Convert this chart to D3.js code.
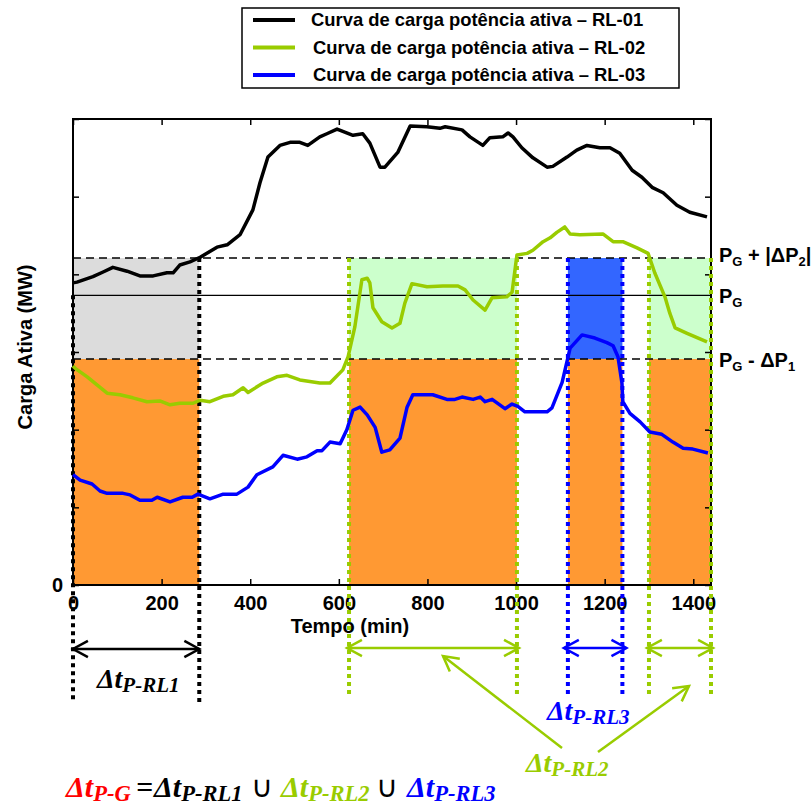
<!DOCTYPE html>
<html>
<head>
<meta charset="utf-8">
<script src="https://cdn.jsdelivr.net/npm/d3@7"></script>
<style>
body{margin:0;background:#fff;}
text{font-family:"Liberation Sans",Arial,sans-serif;}
.dt{font-family:"Liberation Serif","Times New Roman",serif;font-weight:bold;font-style:italic;}
</style>
</head>
<body>
<svg id="chart" width="812" height="806"></svg>
<script>
// curvas de carga: [tempo (min), carga (escala do eixo, 0..6)]
var rl01=[[0,3.89],[9,3.90],[45,3.97],[68,4.03],[90,4.09],[122,4.04],[151,3.98],[181,3.98],[212,4.02],[226,4.02],[241,4.12],[264,4.16],[287,4.22],[325,4.35],[348,4.38],[377,4.51],[406,4.83],[422,5.18],[440,5.51],[467,5.66],[490,5.70],[512,5.70],[530,5.66],[557,5.77],[573,5.81],[596,5.87],[632,5.79],[654,5.81],[670,5.69],[693,5.38],[704,5.38],[733,5.57],[761,5.91],[799,5.90],[828,5.88],[840,5.90],[878,5.86],[896,5.77],[925,5.66],[941,5.76],[970,5.77],[982,5.82],[993,5.77],[1013,5.63],[1038,5.50],[1070,5.38],[1083,5.39],[1115,5.51],[1137,5.60],[1160,5.66],[1189,5.63],[1212,5.63],[1234,5.56],[1262,5.34],[1284,5.25],[1307,5.12],[1332,5.05],[1363,4.89],[1392,4.80],[1431,4.74]];
var rl02=[[0,2.82],[5,2.79],[32,2.68],[77,2.47],[106,2.45],[135,2.41],[167,2.36],[196,2.37],[219,2.32],[241,2.34],[271,2.34],[287,2.38],[309,2.36],[339,2.43],[361,2.45],[384,2.54],[395,2.48],[429,2.60],[460,2.68],[483,2.70],[512,2.64],[557,2.60],[580,2.60],[609,2.77],[621,2.94],[636,3.32],[652,3.93],[664,3.95],[670,3.89],[677,3.57],[697,3.39],[720,3.31],[738,3.37],[749,3.63],[765,3.88],[799,3.84],[835,3.85],[869,3.85],[885,3.80],[903,3.67],[930,3.54],[946,3.70],[979,3.71],[991,3.77],[1002,4.25],[1025,4.27],[1038,4.31],[1061,4.42],[1077,4.47],[1092,4.54],[1110,4.61],[1122,4.52],[1144,4.51],[1196,4.52],[1219,4.42],[1241,4.42],[1273,4.34],[1298,4.27],[1313,4.02],[1336,3.71],[1347,3.50],[1359,3.31],[1386,3.24],[1431,3.13]];
var rl03=[[0,1.42],[16,1.35],[43,1.30],[61,1.21],[77,1.18],[113,1.18],[129,1.16],[151,1.09],[178,1.09],[190,1.13],[219,1.07],[248,1.13],[269,1.13],[282,1.17],[309,1.11],[339,1.17],[370,1.17],[395,1.26],[415,1.42],[451,1.52],[474,1.67],[506,1.62],[528,1.65],[551,1.73],[562,1.73],[580,1.84],[603,1.82],[618,2.00],[632,2.25],[648,2.29],[664,2.19],[682,2.03],[697,1.71],[715,1.74],[738,1.89],[754,2.29],[767,2.45],[812,2.45],[844,2.39],[862,2.39],[878,2.42],[903,2.39],[919,2.42],[930,2.36],[946,2.39],[975,2.27],[991,2.33],[1004,2.30],[1020,2.23],[1070,2.23],[1081,2.28],[1104,2.61],[1122,3.05],[1149,3.22],[1178,3.18],[1205,3.12],[1219,3.08],[1230,2.94],[1239,2.60],[1241,2.36],[1257,2.21],[1280,2.10],[1302,1.97],[1329,1.94],[1354,1.84],[1377,1.76],[1399,1.75],[1433,1.70]];

var xTicks=[0,200,400,600,800,1000,1200,1400];
var yTicks=[0,1,2,3,4,5,6];

// niveis de referencia
var nivelSup=4.21;   // PG + |dP2|
var nivelPG=3.73;    // PG
var nivelInf=2.91;   // PG - dP1

// intervalos de cada RL (min)
var intervRL1=[[0,285]];
var intervRL2=[[623,1002],[1300,1440]];
var intervRL3=[[1117,1240]];

var legendas=["Curva de carga potência ativa – RL-01","Curva de carga potência ativa – RL-02","Curva de carga potência ativa – RL-03"];
var cores=["#000000","#99cc00","#0000ff"];

var svg=d3.select("#chart");
var x=d3.scaleLinear().domain([0,1440]).range([73,711]);
var y=d3.scaleLinear().domain([0,6]).range([585,119]);

var todos=intervRL1.concat(intervRL2,intervRL3);

//////// areas
function faixa(lista,y0,y1,cor){
	svg.append("g").selectAll("rect").data(lista).enter().append("rect")
		.attr("x",function(d){return x(d[0]);})
		.attr("width",function(d){return x(d[1])-x(d[0]);})
		.attr("y",y(y1))
		.attr("height",y(y0)-y(y1))
		.attr("fill",cor);
}
faixa(todos,0,nivelInf,"#ff9933");
faixa(intervRL1,nivelInf,nivelSup,"#dcdcdc");
faixa(intervRL2,nivelInf,nivelSup,"#ccffcc");
faixa(intervRL3,nivelInf,nivelSup,"#3366ff");

//////// linhas horizontais
svg.append("line").attr("x1",x(0)).attr("x2",x(1440)).attr("y1",y(nivelSup)).attr("y2",y(nivelSup))
	.attr("stroke","#000").attr("stroke-width",1.5).attr("stroke-dasharray","8,5");
svg.append("line").attr("x1",x(0)).attr("x2",x(1440)).attr("y1",y(nivelInf)).attr("y2",y(nivelInf))
	.attr("stroke","#000").attr("stroke-width",1.5).attr("stroke-dasharray","8,5");
svg.append("line").attr("x1",x(0)).attr("x2",x(1440)).attr("y1",y(nivelPG)).attr("y2",y(nivelPG))
	.attr("stroke","#000").attr("stroke-width",1.2);

//////// eixos
var fmtX=function(d){return d;};
svg.append("g").attr("transform","translate(0,585)")
	.call(d3.axisBottom(x).tickValues(xTicks).tickSize(-6).tickSizeOuter(0).tickPadding(11).tickFormat(fmtX));
svg.append("g").attr("transform","translate(0,119)")
	.call(d3.axisTop(x).tickValues(xTicks).tickSize(-6).tickSizeOuter(0).tickFormat(""));
svg.append("g").attr("transform","translate(73,0)")
	.call(d3.axisLeft(y).tickValues(yTicks).tickSize(-6).tickSizeOuter(0).tickPadding(10).tickFormat(function(d){return d===0?"0":"";}));
svg.append("g").attr("transform","translate(711,0)")
	.call(d3.axisRight(y).tickValues(yTicks).tickSize(-6).tickSizeOuter(0).tickFormat(""));
svg.selectAll(".domain").remove();
svg.selectAll(".tick line").attr("stroke","#000").attr("stroke-width",1.5);
svg.selectAll(".tick text").attr("font-size",20).attr("font-weight","bold").attr("fill","#000")
	.attr("font-family","Liberation Sans, Arial, sans-serif");
svg.append("rect").attr("x",73).attr("y",119).attr("width",711-73).attr("height",585-119)
	.attr("fill","none").attr("stroke","#000").attr("stroke-width",2);

svg.append("text").attr("x",350).attr("y",633).attr("text-anchor","middle")
	.attr("font-size",20).attr("font-weight","bold").text("Tempo (min)");
svg.append("text").attr("transform","translate(32,347) rotate(-90)").attr("text-anchor","middle")
	.attr("font-size",20).attr("font-weight","bold").text("Carga Ativa (MW)");

//////// verticais pontilhadas
function verticais(lista,cor,yIni,yFim,soFim){
	lista.forEach(function(iv){
		iv.forEach(function(t,k){
			var topo=(k===0&&soFim)?y(nivelPG):y(yIni);
			svg.append("line").attr("x1",x(t)).attr("x2",x(t)).attr("y1",topo).attr("y2",yFim)
				.attr("stroke",cor).attr("stroke-width",4).attr("stroke-dasharray","4,4");
		});
	});
}
verticais(intervRL1,"#000",nivelSup,703,true);
verticais(intervRL2,"#99cc00",nivelSup,695,false);
verticais(intervRL3,"#0000ff",nivelSup,695,false);

//////// curvas
var linha=d3.line().x(function(d){return x(d[0]);}).y(function(d){return y(d[1]);});
[rl01,rl02,rl03].forEach(function(s,i){
	svg.append("path").attr("d",linha(s)).attr("fill","none").attr("stroke",cores[i])
		.attr("stroke-width",3.5).attr("stroke-linejoin","round");
});

//////// setas
function ponta(x0,y0,x1,y1,cor){
	var a=Math.atan2(y1-y0,x1-x0),L=17,s=0.5;
	svg.append("path")
		.attr("d","M"+(x1-L*Math.cos(a-s))+","+(y1-L*Math.sin(a-s))+"L"+x1+","+y1+"L"+(x1-L*Math.cos(a+s))+","+(y1-L*Math.sin(a+s)))
		.attr("fill","none").attr("stroke",cor).attr("stroke-width",2.5);
}
function setaDupla(iv,cor,yy,ext){
	var a=x(iv[0])-ext,b=x(iv[1])+ext;
	svg.append("line").attr("x1",a).attr("x2",b).attr("y1",yy).attr("y2",yy).attr("stroke",cor).attr("stroke-width",2.5);
	ponta(b,yy,a,yy,cor);
	ponta(a,yy,b,yy,cor);
}
intervRL1.forEach(function(iv){setaDupla(iv,"#000",649,0);});
intervRL2.forEach(function(iv){setaDupla(iv,"#99cc00",648,2);});
intervRL3.forEach(function(iv){setaDupla(iv,"#0000ff",648,4);});

function setaSimples(x0,y0,x1,y1,cor){
	svg.append("line").attr("x1",x0).attr("y1",y0).attr("x2",x1).attr("y2",y1).attr("stroke",cor).attr("stroke-width",2.5);
	ponta(x0,y0,x1,y1,cor);
}
setaSimples(562,748,443,656,"#99cc00");
setaSimples(598,752,689,686,"#99cc00");

//////// rotulos delta t
function rotuloDt(xx,yy,sub,cor,tam){
	tam=tam||28;
	var t=svg.append("text").attr("class","dt").attr("x",xx).attr("y",yy).attr("fill",cor);
	t.append("tspan").attr("font-size",tam).text("Δt");
	t.append("tspan").attr("font-size",tam*0.75).attr("dy",4).text(sub);
}
rotuloDt(97,688,"P-RL1","#000");
rotuloDt(547,720,"P-RL3","#0000ff");
rotuloDt(526,772,"P-RL2","#99cc00");

// equacao
rotuloDt(66,797,"P-G","#ff0000",30);
svg.append("text").attr("class","dt").attr("x",136).attr("y",797).attr("font-size",30).text("=");
rotuloDt(154,797,"P-RL1","#000",30);
svg.append("text").attr("x",251).attr("y",797).attr("font-size",30).attr("font-family","DejaVu Sans").text("∪");
rotuloDt(281,797,"P-RL2","#99cc00",30);
svg.append("text").attr("x",376).attr("y",797).attr("font-size",30).attr("font-family","DejaVu Sans").text("∪");
rotuloDt(407,797,"P-RL3","#0000ff",30);

//////// rotulos dos niveis
function rotuloNivel(yy,partes){
	var t=svg.append("text").attr("x",719).attr("y",yy).attr("font-weight","bold").attr("fill","#000");
	partes.forEach(function(p){
		t.append("tspan").attr("font-size",p[1]?13:20).attr("dy",p[1]?4:(p[2]||0)).text(p[0]);
	});
}
rotuloNivel(262,[["P"],["G",1],[" + |ΔP",0,-4],["2",1],["|",0,-4]]);
rotuloNivel(303,[["P"],["G",1]]);
rotuloNivel(367,[["P"],["G",1],[" - ΔP",0,-4],["1",1]]);

//////// legenda
svg.append("rect").attr("x",242).attr("y",8).attr("width",437).attr("height",80)
	.attr("fill","#fff").attr("stroke","#000").attr("stroke-width",1.5);
legendas.forEach(function(l,i){
	var yy=20+i*27.5;
	svg.append("line").attr("x1",253).attr("x2",295).attr("y1",yy).attr("y2",yy)
		.attr("stroke",cores[i]).attr("stroke-width",4);
	svg.append("text").attr("x",i===0?311:313).attr("y",yy+6).attr("font-size",18.4).attr("font-weight","bold").text(l);
});
</script>
</body>
</html>
